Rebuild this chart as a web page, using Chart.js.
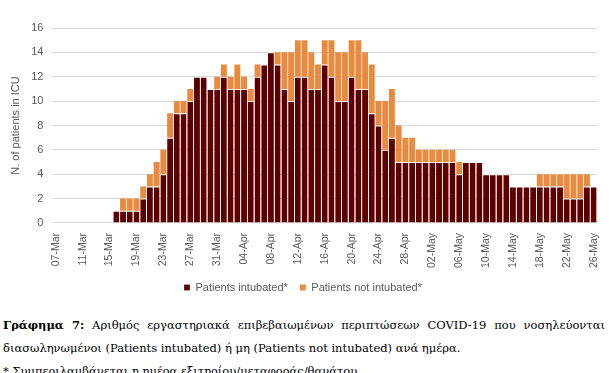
<!DOCTYPE html>
<html>
<head>
<meta charset="utf-8">
<script src="https://cdn.jsdelivr.net/npm/chart.js@4.4.0/dist/chart.umd.min.js"></script>
<style>
  body { margin: 0; background: #fff; width: 610px; height: 373px; overflow: hidden; }
  #wrap { position: absolute; left: 0; top: 0; width: 610px; height: 303px; }
  #caption { position: absolute; left: 3px; top: 314px; width: 602px; font-family: "DejaVu Serif", serif; font-size: 11.5px; color: #000; line-height: 23px; }
  #caption .l1 { text-align: justify; text-align-last: justify; white-space: nowrap; }
</style>
</head>
<body>
<div id="wrap"><canvas id="icuChart"></canvas></div>
<div id="caption">
  <div class="l1"><b>Γράφημα 7:</b> Αριθμός εργαστηριακά επιβεβαιωμένων περιπτώσεων COVID-19 που νοσηλεύονται</div>
  <div>διασωληνωμένοι (Patients intubated) ή μη (Patients not intubated) ανά ημέρα.</div>
  <div>* Συμπεριλαμβάνεται η ημέρα εξιτηρίου/μεταφοράς/θανάτου</div>
</div>
<script>
// one label per day, 07-Mar .. 26-May
const dates = [
  "07-Mar","08-Mar","09-Mar","10-Mar","11-Mar","12-Mar","13-Mar","14-Mar","15-Mar","16-Mar",
  "17-Mar","18-Mar","19-Mar","20-Mar","21-Mar","22-Mar","23-Mar","24-Mar","25-Mar","26-Mar",
  "27-Mar","28-Mar","29-Mar","30-Mar","31-Mar","01-Apr","02-Apr","03-Apr","04-Apr","05-Apr",
  "06-Apr","07-Apr","08-Apr","09-Apr","10-Apr","11-Apr","12-Apr","13-Apr","14-Apr","15-Apr",
  "16-Apr","17-Apr","18-Apr","19-Apr","20-Apr","21-Apr","22-Apr","23-Apr","24-Apr","25-Apr",
  "26-Apr","27-Apr","28-Apr","29-Apr","30-Apr","01-May","02-May","03-May","04-May","05-May",
  "06-May","07-May","08-May","09-May","10-May","11-May","12-May","13-May","14-May","15-May",
  "16-May","17-May","18-May","19-May","20-May","21-May","22-May","23-May","24-May","25-May",
  "26-May"
];

// 07-Mar .. 15-Mar have no patients
const intubated = [
  null,null,null,null,null,null,null,null,null,
  1,1,1,1,2,3,3,4,7,9,9,10,12,12,11,
  11,12,11,11,11,10,12,13,14,13,11,10,12,12,
  11,11,13,12,10,10,12,11,11,9,8,6,7,5,5,
  5,5,5,5,5,5,5,4,5,5,5,4,4,4,4,3,3,3,3,3,3,3,3,2,2,2,3,3
];
const notIntubated = [
  null,null,null,null,null,null,null,null,null,
  0,1,1,1,1,1,2,2,2,1,1,1,0,0,0,
  1,1,1,2,1,1,1,0,0,1,3,4,3,3,
  3,2,2,3,4,4,3,4,3,4,2,4,4,3,2,
  2,1,1,1,1,1,1,1,0,0,0,0,0,0,0,0,0,0,0,1,1,1,1,2,2,2,1,0
];

const yTicks = [0, 2, 4, 6, 8, 10, 12, 14, 16];

const textColor = "#595959";
const baseFont = "'Liberation Sans', sans-serif";

const ctx = document.getElementById("icuChart").getContext("2d");
new Chart(ctx, {
    type: "bar",
    data: {
        labels: dates,
        datasets: [
            {
                label: "Patients intubated*",
                data: intubated,
                backgroundColor: "#5f0000",
                borderColor: "#ffffff",
                borderWidth: {top: 1, left: 0, right: 0, bottom: 0},
                borderSkipped: false,
                barPercentage: 0.88,
                categoryPercentage: 1.0
            },
            {
                label: "Patients not intubated*",
                data: notIntubated,
                backgroundColor: "#ea8a3f",
                borderColor: "#ffffff",
                borderWidth: 0,
                barPercentage: 0.88,
                categoryPercentage: 1.0
            }
        ]
    },
    options: {
        responsive: true,
        maintainAspectRatio: false,
        animation: false,
        layout: { padding: { left: 9, right: 13, top: 28, bottom: 0 } },
        plugins: {
            legend: {
                position: "bottom",
                labels: {
                    boxWidth: 6,
                    boxHeight: 6,
                    padding: 12,
                    color: textColor,
                    font: { family: baseFont, size: 11 }
                }
            },
            tooltip: { enabled: false }
        },
        scales: {
            x: {
                stacked: true,
                grid: { display: false },
                border: { color: "#d9d9d9" },
                ticks: {
                    autoSkip: false,
                    maxRotation: 90,
                    minRotation: 90,
                    padding: 2,
                    color: textColor,
                    font: { family: baseFont, size: 10.5 },
                    callback: function(value, index) {
                        return index % 4 === 0 ? dates[index] : "";
                    }
                }
            },
            y: {
                stacked: true,
                min: 0,
                max: 16,
                afterBuildTicks: function(axis) {
                    axis.ticks = yTicks.map(v => ({value: v}));
                },
                grid: { color: "#d9d9d9", drawTicks: false },
                border: { display: false },
                ticks: {
                    padding: 9,
                    color: textColor,
                    font: { family: baseFont, size: 11 }
                },
                title: {
                    display: true,
                    text: "N. of patients in ICU",
                    color: textColor,
                    padding: 0,
                    font: { family: baseFont, size: 11 }
                }
            }
        }
    }
});
</script>
</body>
</html>
